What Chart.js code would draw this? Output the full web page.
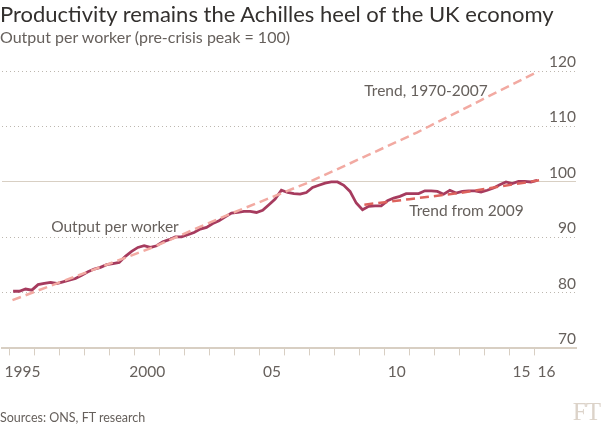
<!DOCTYPE html>
<html>
<head>
<meta charset="utf-8">
<script src="https://cdn.jsdelivr.net/npm/chart.js@4.4.1/dist/chart.umd.min.js"></script>
<style>
  body { margin: 0; background: #fff; }
  #wrap { position: relative; width: 601px; height: 426px; font-family: Lato, sans-serif; }
  #wrap canvas { position: absolute; left: 0; top: 0; }
  .title { position: absolute; left: 0; top: 0px; font-size: 22px; color: #33302e; white-space: nowrap; }
  .subtitle { position: absolute; left: 0; top: 27px; font-size: 16px; color: #66605c; white-space: nowrap; }
  .source { position: absolute; left: 0; top: 410px; font-size: 12.5px; color: #66605c; white-space: nowrap; }
  .logo { position: absolute; right: 1px; top: 398px; font-family: "Liberation Serif", serif; font-size: 25px; color: #dcd3c9; letter-spacing: -1px; }
</style>
</head>
<body>
<div id="wrap">
  <canvas id="chart" width="601" height="426"></canvas>
  <div class="title">Productivity remains the Achilles heel of the UK economy</div>
  <div class="subtitle">Output per worker (pre-crisis peak = 100)</div>
  <div class="source">Sources: ONS, FT research</div>
  <div class="logo">FT</div>
</div>
<script>
// output per worker, quarterly, 1995 Q1 - 2016 Q1 (pre-crisis peak = 100)
const startYear = 1995;
const outputPerWorker = [
  80.3, 80.3, 80.7, 80.5, 81.5, 81.7, 81.9, 81.7, 82.0, 82.3,
  82.6, 83.2, 83.8, 84.3, 84.6, 85.1, 85.3, 85.5, 86.6, 87.5,
  88.2, 88.5, 88.2, 88.5, 89.2, 89.6, 90.1, 90.1, 90.5, 90.9,
  91.5, 91.8, 92.5, 93.0, 93.7, 94.4, 94.5, 94.7, 94.7, 94.5,
  94.9, 95.9, 96.9, 98.5, 98.1, 97.9, 97.8, 98.1, 99.0, 99.4,
  99.8, 100.0, 100.0, 99.4, 98.3, 96.2, 95.0, 95.6, 95.7, 95.7,
  96.6, 97.1, 97.4, 97.9, 97.9, 97.9, 98.4, 98.4, 98.3, 97.8,
  98.5, 98.0, 98.3, 98.4, 98.4, 98.2, 98.5, 98.9, 99.5, 100.0,
  99.7, 100.1, 100.1, 100.0, 100.3
];

// trend 1970-2007
const trendYears = [1995.1, 2000.6, 2003.8, 2006.9, 2008.6, 2011.3, 2013.9, 2016.2];
const trendValues = [78.7, 88.0, 94.2, 99.8, 103.3, 108.9, 114.8, 120.0];

// trend from 2009
const trend09Years = [2009.2, 2011.0, 2013.0, 2016.2];
const trend09Values = [95.9, 96.9, 98.0, 100.3];

// axis labels
const tickYears = [1995, 2000, 2005, 2010, 2015, 2016];
const tickLabels = ["1995", "2000", "05", "10", "15", "16"];

const grey = "#66605c";
const beige = "#d8cfc3";

// quarter mid-points as x values
const quarterX = outputPerWorker.map((v, i) => startYear + (i + 0.5) / 4);

const toPoints = (xs, ys) => xs.map((x, i) => ({ x: x, y: ys[i] }));

// text annotations placed in data coordinates
const notes = [
  { text: "Output per worker", x: 1996.65, y: 91.9 },
  { text: "Trend, 1970-2007", x: 2009.2, y: 116.4 },
  { text: "Trend from 2009", x: 2011.0, y: 94.8 },
];

const notesPlugin = {
  id: "notes",
  afterDatasetsDraw(chart) {
    const { ctx, scales } = chart;
    ctx.save();
    ctx.font = "15.5px Lato, sans-serif";
    ctx.fillStyle = grey;
    ctx.textAlign = "left";
    ctx.textBaseline = "middle";
    notes.forEach((n) => {
      ctx.fillText(n.text, scales.x.getPixelForValue(n.x), scales.y.getPixelForValue(n.y));
    });
    ctx.restore();
  },
};

new Chart(document.getElementById("chart"), {
  type: "line",
  data: {
    datasets: [
      {
        label: "Trend from 2009",
        data: toPoints(trend09Years, trend09Values),
        borderColor: "#dd625c",
        borderWidth: 2.5,
        borderDash: [9, 5],
        pointRadius: 0,
      },
      {
        label: "Trend, 1970-2007",
        data: toPoints(trendYears, trendValues),
        borderColor: "#f2aaa2",
        borderWidth: 2.5,
        borderDash: [9, 5],
        pointRadius: 0,
      },
      {
        label: "Output per worker",
        data: toPoints(quarterX, outputPerWorker),
        borderColor: "#a63b5e",
        borderWidth: 2.8,
        pointRadius: 0,
      },
    ],
  },
  options: {
    responsive: false,
    animation: false,
    layout: { padding: { top: 71, left: 2, right: 25, bottom: 38 } },
    plugins: { legend: { display: false }, tooltip: { enabled: false } },
    scales: {
      x: {
        type: "linear",
        min: 1994.68,
        max: 2017.68,
        afterBuildTicks: (scale) => {
          const ticks = [];
          for (let y = 1995; y <= 2016; y++) ticks.push({ value: y });
          tickYears.forEach((y) => ticks.push({ value: y + 0.5 }));
          scale.ticks = ticks;
        },
        ticks: {
          autoSkip: false,
          maxRotation: 0,
          minRotation: 0,
          padding: 7,
          color: grey,
          font: { family: "Lato", size: 15.5 },
          callback: (value) => {
            const i = tickYears.indexOf(value - 0.5);
            return i >= 0 ? tickLabels[i] : "";
          },
        },
        grid: {
          drawOnChartArea: false,
          tickLength: 7,
          tickColor: (ctx) => (ctx.tick && ctx.tick.value % 1 === 0 ? beige : "rgba(0,0,0,0)"),
        },
        border: { color: beige, width: 2 },
      },
      y: {
        position: "right",
        min: 70,
        max: 120,
        ticks: {
          stepSize: 10,
          mirror: true,
          padding: 0,
          labelOffset: -9,
          color: grey,
          font: { family: "Lato", size: 15.5 },
        },
        grid: {
          drawTicks: false,
          color: (ctx) => {
            if (!ctx.tick) return "#bdb7af";
            if (ctx.tick.value === 70) return "rgba(0,0,0,0)";
            return ctx.tick.value === 100 ? beige : "#bdb7af";
          },
        },
        border: {
          display: false,
          dash: (ctx) => (ctx.tick && ctx.tick.value === 100 ? [] : [1, 3]),
        },
      },
    },
  },
  plugins: [notesPlugin],
});
</script>
</body>
</html>
